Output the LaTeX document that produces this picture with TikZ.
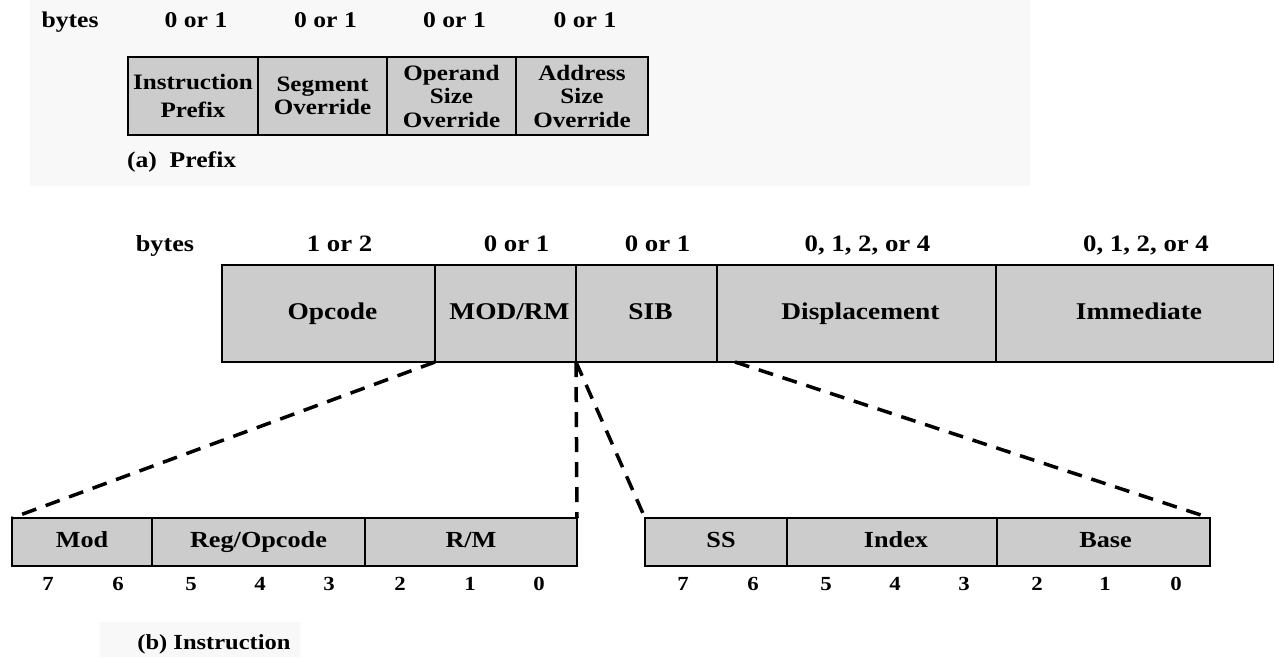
\documentclass[tikz,border=0pt]{standalone}
\usepackage{fontspec}
\setmainfont[FakeStretch=1.14]{Liberation Serif}
\begin{document}
\begin{tikzpicture}[x=1pt,y=-1pt,
  cell/.style={draw=black,line width=2.6pt,fill=cellgray,inner sep=0pt,
    outer sep=0pt,anchor=north west},
  pfx/.style={cell,minimum height=78pt,align=center,
    font=\bfseries\fontsize{22}{23.5}\selectfont},
  ins/.style={cell,minimum height=97pt,text height=16pt,text depth=5pt,
    font=\bfseries\fontsize{24}{26}\selectfont},
  bits/.style={cell,minimum height=48pt,text height=16pt,text depth=5pt,
    font=\bfseries\fontsize{23}{26}\selectfont},
  txt/.style={inner sep=0pt,outer sep=0pt,text height=15pt,text depth=5pt},
  lbl/.style={txt,font=\bfseries\fontsize{22.5}{26}\selectfont},
  num/.style={txt,font=\bfseries\fontsize{20}{24}\selectfont},
  zoomline/.style={line width=3.5pt,dash pattern=on 15pt off 10pt}]
\definecolor{cellgray}{RGB}{204,204,204}
\definecolor{haze}{RGB}{248,248,248}
\useasboundingbox (0,0) rectangle (1274,657);
\fill[white] (0,0) rectangle (1274,657);
\fill[haze] (30,0) rectangle (1030,186);
\fill[haze] (100,622) rectangle (300,657);

% (a) prefix bytes
\node[lbl] (pbytes) at (70,22) {bytes};
\node[pfx,minimum width=130pt,font=\bfseries\fontsize{22}{28}\selectfont]
  (ip) at (128,57) {Instruction\\Prefix};
\node[pfx,minimum width=129pt] (so) at (ip.north east) {Segment\\Override};
\node[pfx,minimum width=129pt] (os) at (so.north east) {Operand\\Size\\Override};
\node[pfx,minimum width=132pt] (as) at (os.north east) {Address\\Size\\Override};
\foreach \c/\n in {ip/a,so/b,os/c,as/d}
  \node[lbl] (pc\n) at ([xshift=3pt]\c.north |- 0,22) {0 or 1};
\node[lbl,anchor=west] (pcap) at (127,162) {(a)\ \ Prefix};

% (b) instruction fields
\node[lbl,font=\bfseries\fontsize{23}{26}\selectfont] (ibytes) at (165,246) {bytes};
\node[ins,minimum width=213pt] (opc) at (222,265) {\hspace*{8pt}Opcode};
\node[ins,minimum width=141pt] (modrm) at (opc.north east) {\hspace*{8pt}MOD/RM};
\node[ins,minimum width=141pt] (sib) at (modrm.north east) {\hspace*{8pt}SIB};
\node[ins,minimum width=279pt] (disp) at (sib.north east) {\hspace*{8pt}Displacement};
\node[ins,minimum width=278pt] (imm) at (disp.north east) {\hspace*{8pt}Immediate};
\foreach \c/\t in {opc/1 or 2,modrm/0 or 1,sib/0 or 1,disp/{0, 1, 2, or 4},imm/{0, 1, 2, or 4}}
  \node[lbl,font=\bfseries\fontsize{23.5}{26}\selectfont] (c\c) at ([xshift=11pt]\c.north |- 0,246) {\t};

% MOD/RM byte
\node[bits,minimum width=140pt] (mod) at (12,518) {Mod};
\node[bits,minimum width=213pt] (reg) at (mod.north east) {Reg/Opcode};
\node[bits,minimum width=212pt] (rm) at (reg.north east) {R/M};

% SIB byte
\node[bits,minimum width=142pt] (ss) at (645,518) {\hspace*{10pt}SS};
\node[bits,minimum width=210pt] (idx) at (ss.north east) {\hspace*{8pt}Index};
\node[bits,minimum width=213pt] (base) at (idx.north east) {\hspace*{4pt}Base};

% bit positions
\foreach \x/\b in {48/7,118/6,191/5,260/4,329/3,400/2,470/1,539/0}
  \node[num] (m\b) at (\x,585) {\b};
\foreach \x/\b in {683/7,753/6,826/5,895/4,964/3,1037/2,1105/1,1176/0}
  \node[num] (s\b) at (\x,585) {\b};

\node[lbl,font=\bfseries\fontsize{21.5}{24}\selectfont] (bcap) at (214,644) {(b) Instruction};

% expansion of MOD/RM and SIB
\draw[zoomline] (opc.south east) -- (mod.north west);
\draw[zoomline] (modrm.south east) -- (rm.north east);
\draw[zoomline] (modrm.south east) -- (ss.north west);
\draw[zoomline] ([xshift=18pt]sib.south east) -- (base.north east);
\end{tikzpicture}
\end{document}
